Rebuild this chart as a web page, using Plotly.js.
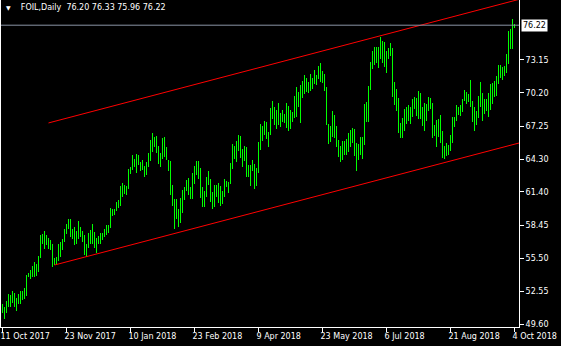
<!DOCTYPE html>
<html>
<head>
<meta charset="utf-8">
<script src="https://cdn.plot.ly/plotly-3.0.1.min.js"></script>
<style>html,body{margin:0;padding:0;background:#000;}#chart{width:561px;height:346px;}</style>
</head>
<body>
<div id="chart"></div>
<script>
// Daily bars (bar index 0 = 11 Oct 2017, last = 4 Oct 2018)
const high = [
51.44,51.17,51.70,52.33,52.24,52.59,52.42,51.97,52.33,52.59,
52.59,52.86,54.02,54.19,54.46,54.82,55.17,55.00,55.70,57.57,
57.66,57.93,57.57,57.30,57.13,56.77,55.53,55.62,56.77,56.95,
57.22,58.10,58.55,58.99,58.99,58.10,58.28,57.93,58.82,58.28,
57.93,57.57,56.77,57.75,58.02,58.55,57.84,57.30,57.48,57.75,
57.75,58.10,58.46,58.46,59.97,59.88,59.88,60.50,60.68,61.93,
62.19,62.02,61.93,63.44,63.62,64.68,64.33,64.77,64.68,64.06,
64.24,63.70,64.06,64.86,66.02,66.64,66.28,66.37,65.48,64.86,
66.19,66.28,65.39,64.24,64.15,62.02,60.77,60.77,59.88,60.86,
61.57,61.84,62.46,62.64,61.84,63.08,63.70,64.15,64.15,63.53,
61.84,61.48,62.73,63.26,62.55,61.39,62.02,62.02,62.19,61.93,
61.48,62.55,62.37,62.28,63.97,65.66,65.48,65.93,66.46,66.37,
65.22,65.48,65.39,63.79,63.79,64.24,63.88,63.53,65.84,67.44,
67.26,67.70,67.62,66.73,68.86,69.48,68.95,68.68,69.30,68.42,
68.68,68.33,69.30,69.04,68.68,68.50,69.93,70.73,70.28,70.90,
71.26,71.79,71.53,71.17,71.88,71.53,72.24,71.79,72.59,72.86,
72.15,71.88,70.73,67.44,67.26,68.59,68.24,67.26,66.02,65.48,
65.93,65.93,66.10,66.64,66.90,67.08,66.99,65.75,65.66,66.28,
66.28,69.22,69.39,70.82,72.95,73.93,74.28,74.28,74.28,75.17,
74.82,74.73,73.93,74.19,74.64,74.19,71.17,70.55,69.75,67.53,
67.97,68.77,68.95,69.13,68.95,69.66,69.84,69.75,70.37,70.19,
68.95,69.30,69.22,69.84,69.75,69.30,67.35,67.79,67.88,68.24,
66.82,65.48,65.75,65.57,66.46,68.06,68.06,69.13,68.95,69.13,
69.66,70.46,70.28,70.10,71.35,69.48,68.95,68.59,69.93,71.17,
70.19,69.66,69.66,70.19,70.99,71.08,71.26,71.70,72.68,72.68,
72.50,72.59,73.66,75.70,75.88,76.77,76.33
];
const low = [
50.64,50.10,50.64,51.17,51.17,51.53,51.17,50.82,51.44,51.44,
51.79,51.88,52.15,53.84,53.66,53.84,53.84,53.93,54.28,55.53,
56.77,56.33,56.68,56.33,56.24,54.73,54.90,54.99,55.26,55.62,
56.24,56.95,57.66,58.10,57.39,57.22,56.68,56.77,57.22,57.39,
56.95,55.79,55.62,56.42,56.77,56.77,56.42,55.97,56.77,56.77,
57.13,57.39,57.57,57.75,58.19,59.26,59.35,59.70,59.97,60.15,
60.95,61.22,61.13,61.66,63.00,63.35,63.62,63.08,63.79,63.26,
63.35,62.73,62.90,63.62,64.15,64.95,65.39,64.86,63.88,63.62,
64.33,64.50,64.24,63.26,61.13,60.15,58.10,58.99,58.28,58.64,
59.53,60.68,61.48,61.13,60.77,60.77,62.10,62.90,62.55,60.86,
60.06,60.06,60.95,62.02,60.50,59.88,60.06,60.95,60.42,60.15,
60.33,60.95,61.84,61.30,62.10,63.44,64.33,64.06,65.04,64.42,
63.62,64.15,62.73,62.73,61.93,63.26,61.66,61.93,63.08,65.13,
65.93,66.46,66.10,65.39,66.46,67.88,67.35,66.99,67.35,67.17,
67.62,67.53,67.08,66.82,66.99,67.62,67.97,68.06,68.95,67.53,
69.75,70.10,70.28,70.19,70.37,70.55,70.99,70.90,71.44,71.17,
71.08,70.37,67.35,65.66,65.84,66.28,66.19,65.39,64.50,64.06,
64.24,64.68,64.68,64.95,65.39,65.75,64.59,63.26,64.24,64.68,
64.33,65.57,67.62,67.62,70.46,72.33,72.68,72.86,72.42,73.22,
72.86,72.50,71.97,73.22,73.48,69.84,69.13,68.59,66.64,66.19,
66.19,66.82,67.44,67.70,67.44,68.06,68.77,68.15,67.88,67.88,
67.26,66.82,67.70,68.59,68.77,66.19,66.37,65.39,66.28,65.75,
64.42,64.33,64.59,64.68,65.04,65.75,67.17,67.70,68.24,68.15,
68.50,69.48,69.22,69.39,68.95,67.62,66.82,67.35,67.97,68.95,
67.70,68.33,68.59,68.06,68.68,69.22,69.84,69.93,70.99,71.53,
71.35,71.70,71.97,72.77,74.10,74.10,75.96
];
// last bar: open, high, low, close
const lastOHLC = [76.20, 76.33, 75.96, 76.22];
const symbol = "FOIL,Daily";

const xTickLabels = ["11 Oct 2017","23 Nov 2017","10 Jan 2018","23 Feb 2018","9 Apr 2018",
                     "23 May 2018","6 Jul 2018","21 Aug 2018","4 Oct 2018"];
const barsPerTick = 32;
const yTicks = [49.60, 52.55, 55.50, 58.45, 61.40, 64.30, 67.25, 70.20, 73.15];

// equidistant channel: start bar, start price, slope per bar
const channelStartBar = [23, 26];
const channelStartPrice = [67.53, 54.90];
const channelSlope = 0.0467;

const idx = high.map((_, i) => i);
const xEnd = 258.25;

const traces = [{
  type: 'bar',
  x: idx,
  base: low,
  y: high.map((h, i) => h - low[i]),
  width: 0.5,
  marker: {color: '#00ff00', line: {width: 0}},
  hoverinfo: 'skip',
  showlegend: false
}];
channelStartBar.forEach((s, k) => {
  traces.push({
    type: 'scatter', mode: 'lines',
    x: [s, xEnd],
    y: [channelStartPrice[k], channelStartPrice[k] + (xEnd - s) * channelSlope],
    line: {color: '#ff0000', width: 1},
    hoverinfo: 'skip', showlegend: false
  });
});

const close = lastOHLC[3];
const layout = {
  width: 561, height: 346,
  margin: {l: 1, r: 42, t: 0, b: 19, pad: 0},
  paper_bgcolor: '#000', plot_bgcolor: '#000',
  font: {family: 'DejaVu Sans', size: 8, color: '#ffffff'},
  showlegend: false,
  title: {
    text: '<span style="font-size:6px">▼</span>\u00a0\u00a0\u00a0\u00a0' + symbol + '\u00a0\u00a0' + lastOHLC.map(v => v.toFixed(2)).join(' '),
    x: 6 / 561, xref: 'container', xanchor: 'left',
    y: 1 - 4 / 346, yref: 'container', yanchor: 'top',
    font: {family: 'DejaVu Sans', size: 8, color: '#ffffff'}
  },
  xaxis: {
    range: [-0.75, xEnd],
    tickvals: xTickLabels.map((_, i) => i * barsPerTick),
    ticktext: xTickLabels,
    showgrid: false, zeroline: false,
    showline: true, linecolor: '#ffffff', linewidth: 1,
    ticks: 'outside', ticklen: 4, tickcolor: '#ffffff', tickwidth: 1,
    ticklabelposition: 'outside right',
    ticklabelshift: -3,
    ticklabelstandoff: 1,
    tickfont: {family: 'DejaVu Sans', size: 8, color: '#ffffff'},
    automargin: false, fixedrange: true
  },
  yaxis: {
    side: 'right',
    range: [49.39, 78.46],
    tickvals: yTicks,
    ticktext: yTicks.map(v => v.toFixed(2)),
    showgrid: false, zeroline: false,
    showline: true, mirror: true, linecolor: '#ffffff', linewidth: 1,
    ticks: 'outside', ticklen: 4, tickcolor: '#ffffff', tickwidth: 1,
    tickfont: {family: 'DejaVu Sans', size: 8, color: '#ffffff'},
    automargin: false, fixedrange: true
  },
  shapes: [{
    type: 'line', xref: 'paper', x0: 0, x1: 1, yref: 'y', y0: close, y1: close,
    line: {color: '#8a94a6', width: 1}
  }],
  annotations: [{
    xref: 'paper', x: 1, xanchor: 'left', xshift: 2,
    yref: 'y', y: close, yanchor: 'middle',
    text: close.toFixed(2), showarrow: false,
    bgcolor: '#ffffff', borderpad: 1,
    font: {family: 'DejaVu Sans', size: 8, color: '#000000'}
  }]
};

Plotly.newPlot('chart', traces, layout, {staticPlot: true, displayModeBar: false});
</script>
</body>
</html>
